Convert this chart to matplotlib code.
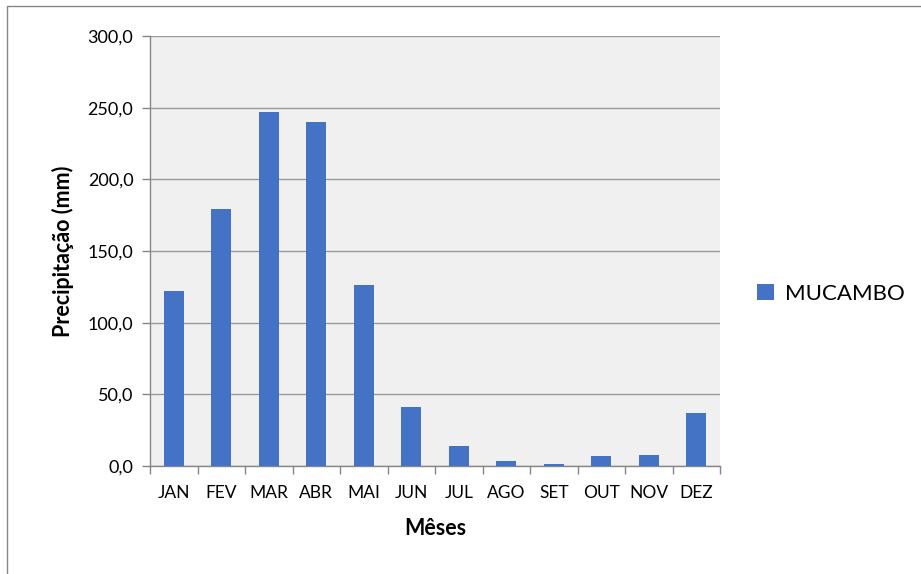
import matplotlib.pyplot as plt
from matplotlib.patches import Rectangle
from matplotlib.ticker import FuncFormatter
import numpy as np

meses = ["JAN", "FEV", "MAR", "ABR", "MAI", "JUN", "JUL", "AGO", "SET", "OUT", "NOV", "DEZ"]
mucambo = [122.0, 179.0, 247.0, 240.0, 126.0, 41.0, 13.7, 3.3, 1.2, 6.8, 8.0, 37.2]

plt.rcParams['font.family'] = ['Lato', 'DejaVu Sans']

fig = plt.figure(figsize=(9.21, 5.74), dpi=100)
# chart border (only top/left visible in reference)
fig.patches.append(Rectangle((7/921, -0.1), 1.1, 1 - 6/574 + 0.1, transform=fig.transFigure,
                             fill=False, edgecolor='#868686', lw=1))

ax = fig.add_axes([150/921, 108/574, 570/921, 430/574])
ax.set_facecolor('#f0f0f0')

x = np.arange(len(meses))
ax.bar(x, mucambo, width=0.42, color='#4472c4', label='MUCAMBO', zorder=3)

ax.set_xlim(-0.5, len(meses) - 0.5)
ax.set_ylim(0, 300)
ax.set_yticks(np.arange(0, 301, 50))
ax.yaxis.set_major_formatter(FuncFormatter(lambda v, p: f"{v:.1f}".replace('.', ',')))
ax.grid(axis='y', color='#9a9a9a', lw=1, zorder=1)

ax.set_xticks(x)
ax.set_xticklabels(meses)
ax.set_xticks(np.arange(-0.5, len(meses)), minor=True)
ax.tick_params(axis='x', which='major', length=0, pad=14, labelsize=12.5)
ax.tick_params(axis='x', which='minor', length=6, color='#868686', width=1)
ax.tick_params(axis='y', length=6, color='#868686', width=1, labelsize=13, pad=6)

for s in ['top', 'right']:
    ax.spines[s].set_visible(False)
for s in ['left', 'bottom']:
    ax.spines[s].set_color('#868686')
    ax.spines[s].set_linewidth(1)

ax.set_xlabel('Mêses', fontsize=15.5, fontweight='bold', labelpad=12)
ax.set_ylabel('Precipitação (mm)', fontsize=15.5, fontweight='bold', labelpad=10)

ax.legend(loc='center left', bbox_to_anchor=(1.03, 0.4), frameon=False, fontsize=16,
          handlelength=0.75, handleheight=0.75, handletextpad=0.5)

fig.savefig('out.png', dpi=100)
